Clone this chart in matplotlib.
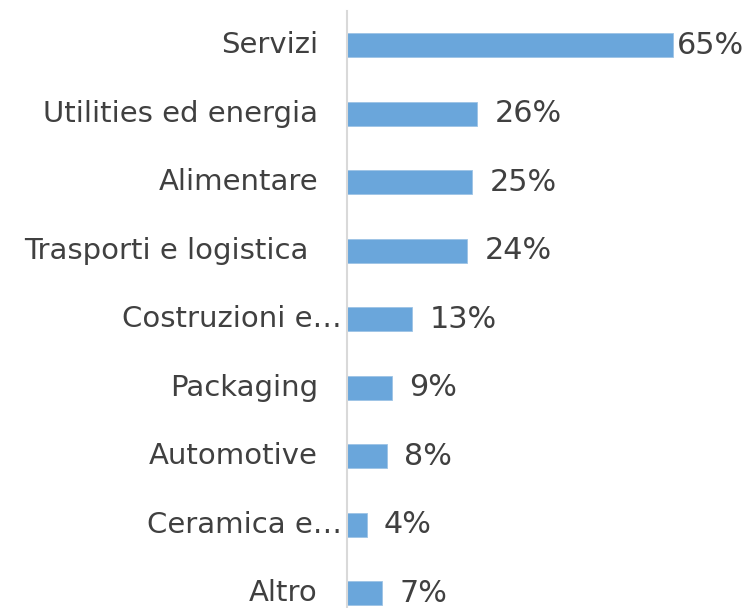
import matplotlib
matplotlib.use("Agg")
import matplotlib.pyplot as plt
from matplotlib import transforms

categories = ["Servizi", "Utilities ed energia", "Alimentare", "Trasporti e logistica ",
              "Costruzioni e…", "Packaging", "Automotive", "Ceramica e…", "Altro"]
values = [65, 26, 25, 24, 13, 9, 8, 4, 7]
value_labels = ["65%", "26%", "25%", "24%", "13%", "9%", "8%", "4%", "7%"]

W, H, DPI = 747, 608, 100
fig = plt.figure(figsize=(W / DPI, H / DPI), dpi=DPI)
left_px, top_px = 347, 11
ax = fig.add_axes([left_px / W, 0, 1 - left_px / W, 1 - top_px / H])

text_color = "#404040"
bar_color = "#6aa6db"
fs = 21
fs_val = 21.8

y = list(range(len(categories)))
ax.barh(y, values, height=0.35, color=bar_color, edgecolor="#9dc3e6", linewidth=0.6)
ax.set_xlim(0, (W - left_px) / 5.015)
ax.set_ylim(8 + (H - 593) / 68.5, -0.5)

for s in ["top", "right", "bottom"]:
    ax.spines[s].set_visible(False)
ax.spines["left"].set_color("#d9d9d9")
ax.spines["left"].set_linewidth(1.5)
ax.set_xticks([])
ax.set_yticks([])

# category labels
label_offsets_px = [-29, -29, -29, -29, -5, -29, -29, -5, -29]
for yi, cat, off in zip(y, categories, label_offsets_px):
    tr = transforms.offset_copy(ax.transData, fig=fig, x=off * 72 / DPI, y=0, units="points")
    ax.text(0, yi, cat, transform=tr, ha="right", va="center", fontsize=fs,
            color=text_color, family="DejaVu Sans")

# value labels
for yi, v, lab in zip(y, values, value_labels):
    off = 4 if v == max(values) else 17
    tr = transforms.offset_copy(ax.transData, fig=fig, x=off * 72 / DPI, y=0, units="points")
    ax.text(v, yi, lab, transform=tr, ha="left", va="center", fontsize=fs_val,
            color=text_color, family="DejaVu Sans", clip_on=False)

fig.savefig("out.png", dpi=DPI)
